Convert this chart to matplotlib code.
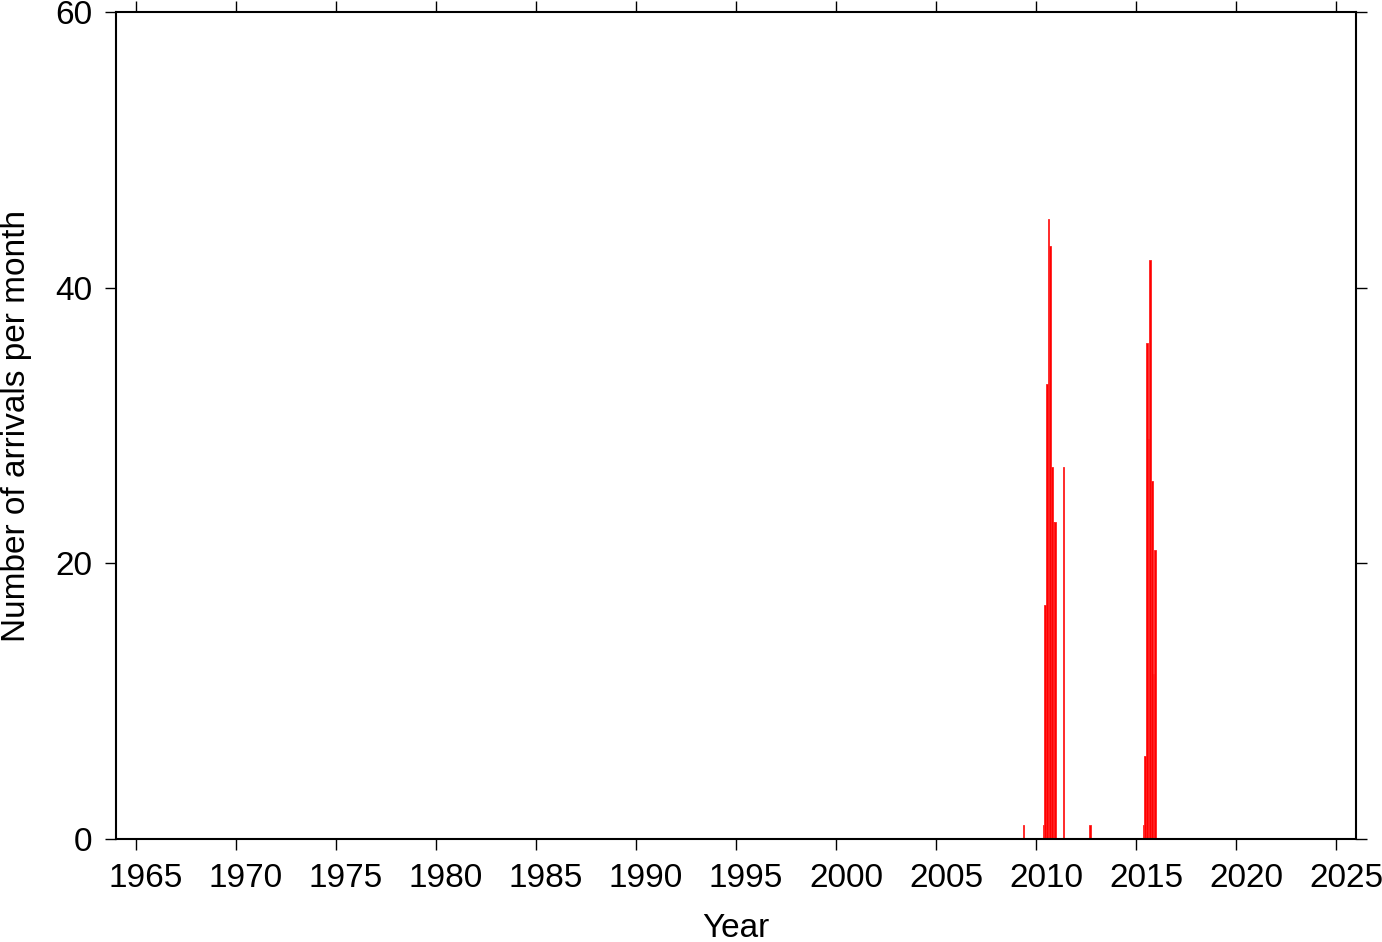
import matplotlib
matplotlib.use("Agg")
import matplotlib.pyplot as plt
import matplotlib.transforms as mtransforms
import numpy as np

plt.rcParams['font.family'] = ['Liberation Sans', 'DejaVu Sans']

# monthly arrival counts (year, month index 0-11, count)
years = [2009, 2010, 2010, 2010, 2010, 2010, 2010, 2010, 2010, 2011, 2012,
         2015, 2015, 2015, 2015, 2015, 2015, 2015, 2015]
months = [4, 4, 5, 6, 7, 8, 9, 10, 11, 4, 8,
          4, 5, 6, 7, 8, 9, 10, 11]
counts = [1, 1, 17, 33, 45, 43, 27, 23, 23, 27, 1,
          1, 6, 36, 29, 42, 26, 12, 21]

xticks = list(range(1965, 2030, 5))
yticks = [0, 20, 40, 60]

fig = plt.figure(figsize=(13.82, 9.42), dpi=100)
ax = fig.add_axes([116 / 1382, 103 / 942, 1240 / 1382, 827 / 942])

t = np.array(years) + np.array(months) / 12.0
ax.bar(t, counts, width=1 / 12.0, align='edge', color='#ff0000',
       edgecolor='#ff2020', linewidth=0.6)

ax.set_xlim(1964, 2026)
ax.set_ylim(0, 60)
ax.set_xticks(xticks)
ax.set_yticks(yticks)
ax.tick_params(axis='both', which='both', direction='out', length=8, width=1.0,
               labelsize=24, top=True, right=True, pad=9)
ax.tick_params(axis='x', pad=9)
for s in ax.spines.values():
    s.set_linewidth(1.5)

# year labels sit a little right of their ticks
shift = mtransforms.ScaledTranslation(10 / 100, 0, fig.dpi_scale_trans)
for lab in ax.get_xticklabels():
    lab.set_transform(lab.get_transform() + shift)

ax.set_xlabel("Year", fontsize=24, labelpad=14)
ax.set_ylabel("Number of arrivals per month", fontsize=24, labelpad=17)

fig.savefig("out.png", dpi=100)
